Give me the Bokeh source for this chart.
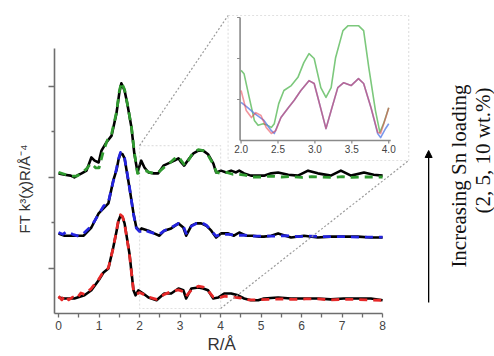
import math

from bokeh.core.properties import value
from bokeh.embed import file_html
from bokeh.models import (Arrow, BoxAnnotation, FixedTicker, Label,
                          NormalHead, Range1d, Title)
from bokeh.plotting import figure
from bokeh.resources import INLINE

# ---------------------------------------------------------------------------
# FT-EXAFS magnitudes (offset for clarity): experiment (black) and fit (dashed)
# ---------------------------------------------------------------------------
# 10 wt.% Sn
r_10 = [0.00, 0.15, 0.30, 0.39, 0.50, 0.57, 0.69, 0.81, 0.89, 0.99,
        1.06, 1.18, 1.31, 1.43, 1.50, 1.55, 1.63, 1.70, 1.80, 1.87,
        1.95, 2.04, 2.12, 2.22, 2.35, 2.46, 2.59, 2.71, 2.86, 2.96,
        3.03, 3.10, 3.23, 3.33, 3.45, 3.57, 3.69, 3.82, 3.89, 4.01,
        4.14, 4.26, 4.38, 4.46, 4.58, 4.75, 4.93, 5.07, 5.25, 5.42,
        5.67, 5.91, 6.16, 6.40, 6.72, 6.97, 7.22, 7.54, 7.78, 8.00]
exp_10 = [3.08, 3.05, 3.03, 2.99, 3.05, 3.08, 3.14, 3.43, 3.36, 3.32,
          3.58, 3.76, 3.91, 4.40, 4.85, 5.06, 4.90, 4.60, 4.09, 3.52,
          3.10, 3.36, 3.21, 3.10, 3.08, 3.08, 3.25, 3.30, 3.36, 3.41,
          3.32, 3.25, 3.41, 3.52, 3.58, 3.58, 3.50, 3.30, 3.10, 3.14,
          3.10, 3.14, 3.10, 3.14, 3.08, 3.03, 3.03, 3.03, 3.08, 3.10,
          3.05, 3.03, 3.14, 3.08, 3.03, 3.14, 3.03, 3.10, 3.05, 3.03]
r_10_fit = [0.00, 0.15, 0.30, 0.45, 0.57, 0.69, 0.80, 0.92, 1.00,
            1.10, 1.20, 1.31, 1.43, 1.50, 1.55, 1.63, 1.70, 1.80, 1.87,
            1.95, 2.05, 2.15, 2.25, 2.35, 2.46, 2.59, 2.71, 2.86, 2.96,
            3.03, 3.12, 3.23, 3.33, 3.45, 3.57, 3.69, 3.82, 3.90, 4.00,
            4.15, 4.30, 4.45, 4.60, 4.80, 5.00, 5.25, 5.50, 5.75, 6.00,
            6.25, 6.50, 6.75, 7.00, 7.25, 7.50, 7.75, 8.00]
fit_10 = [3.10, 3.06, 3.02, 3.02, 3.08, 3.18, 3.30, 3.20, 3.20,
          3.55, 3.80, 3.95, 4.42, 4.88, 5.08, 4.92, 4.60, 4.10, 3.55,
          3.08, 3.12, 3.14, 3.10, 3.08, 3.10, 3.20, 3.28, 3.40, 3.45,
          3.36, 3.25, 3.40, 3.55, 3.60, 3.58, 3.48, 3.28, 3.10, 3.08,
          3.10, 3.06, 3.06, 3.04, 3.00, 3.00, 3.02, 3.00, 3.01, 2.99,
          3.01, 3.00, 2.99, 3.01, 2.99, 3.00, 3.00, 3.00]

# 5 wt.% Sn
r_5 = [0.00, 0.15, 0.40, 0.62, 0.81, 0.99, 1.11, 1.23, 1.35, 1.43,
       1.48, 1.53, 1.58, 1.63, 1.75, 1.85, 1.92, 2.00, 2.05, 2.22,
       2.36, 2.49, 2.61, 2.78, 2.96, 3.08, 3.15, 3.28, 3.40, 3.52,
       3.65, 3.77, 3.89, 4.01, 4.19, 4.33, 4.46, 4.63, 4.80, 4.95,
       5.07, 5.25, 5.42, 5.74, 6.06, 6.40, 6.72, 7.04, 7.39, 7.71,
       8.00]
exp_5 = [1.76, 1.71, 1.71, 1.71, 1.89, 2.20, 2.31, 2.42, 2.92, 3.15,
         3.38, 3.52, 3.50, 3.41, 2.77, 2.20, 1.89, 1.82, 1.87, 1.82,
         1.76, 1.71, 1.82, 1.87, 1.98, 1.89, 1.71, 1.93, 1.98, 1.98,
         1.93, 1.82, 1.67, 1.76, 1.76, 1.71, 1.78, 1.71, 1.71, 1.69,
         1.69, 1.71, 1.76, 1.67, 1.71, 1.67, 1.69, 1.69, 1.69, 1.67,
         1.67]
r_5_fit = [0.00, 0.10, 0.20, 0.35, 0.50, 0.62, 0.81, 0.99, 1.11, 1.23,
           1.35, 1.43, 1.48, 1.53, 1.58, 1.63, 1.75, 1.85, 1.92, 2.00,
           2.10, 2.22, 2.36, 2.49, 2.61, 2.78, 2.96, 3.08, 3.15, 3.28,
           3.40, 3.52, 3.65, 3.77, 3.89, 4.01, 4.20, 4.40, 4.60, 4.80,
           5.00, 5.30, 5.60, 5.90, 6.20, 6.50, 6.80, 7.10, 7.40, 7.70,
           8.00]
fit_5 = [1.78, 1.74, 1.80, 1.74, 1.70, 1.76, 1.92, 2.18, 2.36, 2.45,
         2.90, 3.18, 3.40, 3.54, 3.51, 3.42, 2.78, 2.18, 1.88, 1.80,
         1.84, 1.80, 1.76, 1.74, 1.82, 1.89, 1.98, 1.92, 1.76, 1.92,
         1.98, 2.00, 1.94, 1.82, 1.70, 1.74, 1.74, 1.72, 1.72, 1.70,
         1.70, 1.70, 1.71, 1.69, 1.70, 1.69, 1.69, 1.69, 1.68, 1.68,
         1.68]

# 2 wt.% Sn
r_2 = [0.00, 0.15, 0.39, 0.64, 0.81, 0.99, 1.11, 1.23, 1.35, 1.43,
       1.48, 1.53, 1.58, 1.63, 1.75, 1.85, 1.90, 1.97, 2.09, 2.22,
       2.42, 2.61, 2.78, 2.96, 3.08, 3.15, 3.28, 3.45, 3.57, 3.69,
       3.82, 3.94, 4.09, 4.26, 4.43, 4.58, 4.75, 4.93, 5.07, 5.42,
       5.74, 6.06, 6.40, 6.72, 7.04, 7.39, 7.71, 8.00]
exp_2 = [0.35, 0.33, 0.33, 0.40, 0.51, 0.73, 0.90, 0.99, 1.45, 1.80,
         2.04, 2.15, 2.12, 1.98, 1.32, 0.51, 0.40, 0.51, 0.44, 0.35,
         0.29, 0.44, 0.44, 0.55, 0.51, 0.33, 0.55, 0.57, 0.55, 0.51,
         0.33, 0.35, 0.44, 0.44, 0.40, 0.33, 0.29, 0.29, 0.33, 0.35,
         0.33, 0.33, 0.33, 0.31, 0.33, 0.33, 0.33, 0.29]
r_2_fit = [0.00, 0.08, 0.16, 0.25, 0.35, 0.45, 0.55, 0.64, 0.81, 0.99,
           1.11, 1.23, 1.35, 1.43, 1.48, 1.53, 1.58, 1.63, 1.75, 1.85,
           1.92, 2.00, 2.10, 2.22, 2.42, 2.61, 2.78, 2.96, 3.08, 3.15,
           3.28, 3.45, 3.57, 3.69, 3.82, 3.94, 4.10, 4.30, 4.50, 4.70,
           4.90, 5.20, 5.50, 5.80, 6.10, 6.40, 6.70, 7.00, 7.30, 7.60,
           8.00]
fit_2 = [0.38, 0.30, 0.40, 0.30, 0.36, 0.33, 0.45, 0.42, 0.55, 0.75,
         0.92, 1.00, 1.44, 1.82, 2.06, 2.17, 2.13, 1.97, 1.30, 0.50,
         0.42, 0.46, 0.42, 0.36, 0.31, 0.42, 0.48, 0.52, 0.48, 0.38,
         0.52, 0.60, 0.58, 0.50, 0.36, 0.34, 0.38, 0.36, 0.34, 0.30,
         0.30, 0.31, 0.32, 0.31, 0.32, 0.32, 0.30, 0.31, 0.31, 0.30,
         0.29]

# Close-up of the 2-4 A region
zr_10 = [2.00, 2.04, 2.11, 2.18, 2.23, 2.30, 2.36, 2.41, 2.45, 2.51,
         2.58, 2.68, 2.77, 2.85, 2.92, 2.99, 3.08, 3.15, 3.22, 3.28,
         3.38, 3.45, 3.59, 3.66, 3.73, 3.82, 3.88, 3.93, 4.00]
zy_10 = [1.71, 1.63, 1.05, 0.49, 0.37, 0.41, 0.37, 0.32, 0.41, 0.90,
         1.22, 1.34, 1.54, 1.90, 2.12, 2.00, 1.29, 1.05, 1.29, 2.02,
         2.68, 2.80, 2.80, 2.68, 1.78, 0.73, 0.20, 0.41, 0.80]
zr_5 = [2.00, 2.09, 2.18, 2.31, 2.41, 2.45, 2.54, 2.64, 2.72, 2.81,
        2.92, 2.99, 3.05, 3.15, 3.22, 3.31, 3.39, 3.49, 3.59, 3.66,
        3.76, 3.85, 3.89, 3.96, 4.00]
zy_5 = [0.93, 0.80, 0.66, 0.49, 0.24, 0.17, 0.56, 0.80, 0.98, 1.22,
        1.46, 1.39, 0.98, 0.29, 0.73, 1.29, 1.41, 1.34, 1.51, 1.39,
        0.80, 0.17, 0.07, 0.30, 0.41]
zr_2 = [2.00, 2.07, 2.14, 2.20, 2.27, 2.34, 2.41, 2.47, 2.54, 2.64,
        2.72, 2.81, 2.92, 2.99, 3.05, 3.15, 3.22, 3.31, 3.39, 3.49,
        3.59, 3.66, 3.76, 3.85, 3.89, 3.96, 4.00]
zy_2 = [1.22, 0.73, 0.56, 0.68, 0.61, 0.32, 0.17, 0.24, 0.56, 0.80,
        0.98, 1.22, 1.46, 1.39, 0.98, 0.29, 0.73, 1.29, 1.41, 1.34,
        1.51, 1.39, 0.80, 0.20, 0.17, 0.56, 0.80]

x_ticks = [0, 1, 2, 3, 4, 5, 6, 7, 8]
y_ticks = [1, 3, 5]
y_minor = [2, 4]
zoom_ticks = [2.0, 2.5, 3.0, 3.5, 4.0]
zoom_yticks = [1, 2, 3]

GREEN, BLUE, RED = "#2f9a2f", "#2424e0", "#e62828"
AXIS = "#6e6e6e"
ZAXIS = "#8a8a8a"
SANS = "Liberation Sans"
SERIF = "Liberation Serif"

# ---------------------------------------------------------------------------
# page geometry (pixels)
# ---------------------------------------------------------------------------
W, H = 494, 356
FRAME_L, BORDER_B = 53, 43
FRAME_B = H - BORDER_B          # x axis line
PX_X, PX_Y = 40.6, 45.5         # pixels per unit of R and of intensity
X_LO, Y_TOP = -0.1, 5.82        # visible extent of the main axes
ZPX_X, ZPX_Y = 74.0, 41.0       # pixels per unit in the close-up
Z_ORIGIN = (240, 140)           # pixel of (2.0, 0) in the close-up

x_range = Range1d(X_LO, X_LO + (W - FRAME_L) / PX_X)
y_range = Range1d(0, FRAME_B / PX_Y)

p = figure(width=W, height=H, x_range=x_range, y_range=y_range,
           output_backend="svg", toolbar_location=None,
           min_border_left=FRAME_L, min_border_right=0, min_border_top=0,
           min_border_bottom=BORDER_B)
p.outline_line_color = None
p.grid.visible = False

z_x0 = zoom_ticks[0] - (Z_ORIGIN[0] - FRAME_L) / ZPX_X
z_y0 = -(FRAME_B - Z_ORIGIN[1]) / ZPX_Y
p.extra_x_ranges = {"zx": Range1d(z_x0, z_x0 + (W - FRAME_L) / ZPX_X)}
p.extra_y_ranges = {"zy": Range1d(z_y0, z_y0 + FRAME_B / ZPX_Y)}


def main_xy(px, py):
    """pixel position -> main data coordinates"""
    return X_LO + (px - FRAME_L) / PX_X, (FRAME_B - py) / PX_Y


def zoom_xy(px, py):
    """pixel position -> close-up data coordinates"""
    return (zoom_ticks[0] + (px - Z_ORIGIN[0]) / ZPX_X,
            (Z_ORIGIN[1] - py) / ZPX_Y)


# ---- main axes ------------------------------------------------------------
for ax in (p.xaxis[0], p.yaxis[0]):
    ax.axis_line_color = AXIS
    ax.axis_line_width = 1.6
    ax.major_tick_line_color = AXIS
    ax.minor_tick_line_color = AXIS
    ax.major_tick_line_width = 1.3
    ax.minor_tick_line_width = 1.3
    ax.major_tick_in = 0
    ax.minor_tick_in = 0

p.xaxis.bounds = (X_LO, x_ticks[-1])
p.xaxis.ticker = FixedTicker(ticks=x_ticks, minor_ticks=[t + 0.5 for t in x_ticks[:-1]])
p.xaxis.major_tick_out = 4
p.xaxis.minor_tick_out = 4
p.xaxis.major_label_standoff = 3
p.xaxis.major_label_text_font = SANS
p.xaxis.major_label_text_font_size = "12px"
p.xaxis.major_label_text_color = "#444444"

p.yaxis.bounds = (0, Y_TOP)
p.yaxis.ticker = FixedTicker(ticks=y_ticks, minor_ticks=y_minor)
p.yaxis.major_tick_out = 6
p.yaxis.minor_tick_out = 3
p.yaxis.major_label_text_font_size = "1px"
p.yaxis.major_label_text_color = None
p.yaxis.major_label_standoff = 0

# axis titles, placed along the drawn part of each axis
p.add_layout(Title(text="FT k³(χ)R/Å⁻⁴", align="left", offset=80,
                   vertical_align="middle", standoff=29,
                   text_font=SANS, text_font_size="15px",
                   text_font_style="normal", text_color="#333333"), "left")
p.add_layout(Title(text="R/Å", align="left", offset=153,
                   vertical_align="bottom", standoff=0,
                   text_font=SANS, text_font_size="17px",
                   text_font_style="normal", text_color="#333333"), "below")

# ---- spectra ----------------------------------------------------------------
series = [(r_10, exp_10, r_10_fit, fit_10, GREEN),
          (r_5, exp_5, r_5_fit, fit_5, BLUE),
          (r_2, exp_2, r_2_fit, fit_2, RED)]
for r_exp, y_exp, r_fit, y_fit, color in series:
    p.line(r_exp, y_exp, line_color="black", line_width=2.6, line_join="round")
    p.line(r_fit, y_fit, line_color=color, line_width=2.8, line_dash="8 6",
           line_join="round")

# ---- region enlarged in the close-up ----------------------------------------
ZX0, ZX1 = zoom_ticks[0], zoom_ticks[-1]
ZY0, ZY1 = 0.11, 3.69
GREY_DOT = dict(line_color="#9a9a9a", line_width=1.2, line_dash="2 2")
p.add_layout(BoxAnnotation(left=ZX0, right=ZX1, bottom=ZY0, top=ZY1,
                           fill_alpha=0, **GREY_DOT))

# close-up frame box and the two guide lines to it
BOX_PX = (227, 15, 408, 160)       # left, top, right, bottom
zl, zt = zoom_xy(BOX_PX[0], BOX_PX[1])
zr, zb = zoom_xy(BOX_PX[2], BOX_PX[3])
p.add_layout(BoxAnnotation(left=zl, right=zr, bottom=zb, top=zt,
                           x_range_name="zx", y_range_name="zy",
                           fill_alpha=0, **GREY_DOT))
ml, mt = main_xy(BOX_PX[0], BOX_PX[1])
mr, mb = main_xy(BOX_PX[2], BOX_PX[3])
for (xa, ya), (xb, yb) in [((ZX0, ZY1), (ml, mt)), ((ZX1, ZY0), (mr, mb))]:
    p.add_layout(Arrow(x_start=xa, y_start=ya, x_end=xb, y_end=yb, end=None,
                       **GREY_DOT))

# ---- close-up axes ----------------------------------------------------------
zx_lo, _ = zoom_xy(Z_ORIGIN[0] - 1, 0)
zx_hi, _ = zoom_xy(390, 0)
ZTOP = zoom_yticks[-1]
p.segment(x0=[zx_lo, zx_lo], y0=[0, 0], x1=[zx_lo, zx_hi], y1=[ZTOP, 0],
          x_range_name="zx", y_range_name="zy", line_color=ZAXIS, line_width=1.6)
tick_dy = 3 / ZPX_Y
tick_dx = 3 / ZPX_X
p.segment(x0=zoom_ticks, y0=[0] * len(zoom_ticks), x1=zoom_ticks,
          y1=[-tick_dy] * len(zoom_ticks), x_range_name="zx", y_range_name="zy",
          line_color=ZAXIS, line_width=1.2)
p.segment(x0=[zx_lo] * len(zoom_yticks), y0=zoom_yticks,
          x1=[zx_lo - tick_dx] * len(zoom_yticks), y1=zoom_yticks,
          x_range_name="zx", y_range_name="zy", line_color=ZAXIS, line_width=1.2)
p.text(x=zoom_ticks, y=[-1.6 * tick_dy] * len(zoom_ticks),
       text=[f"{t:.1f}" for t in zoom_ticks], x_range_name="zx", y_range_name="zy",
       text_font=value(SANS), text_font_size="10px", text_color="#444444",
       text_align="center", text_baseline="top")

# ---- close-up curves --------------------------------------------------------
p.line(zr_10, zy_10, x_range_name="zx", y_range_name="zy", line_color="#7cc87c",
       line_width=1.6, line_join="round")
p.line(zr_5, zy_5, x_range_name="zx", y_range_name="zy", line_color="#5a7ee6",
       line_width=1.6, line_alpha=0.8, line_join="round")
p.line(zr_2, zy_2, x_range_name="zx", y_range_name="zy", line_color="#e8404e",
       line_width=1.6, line_alpha=0.55, line_join="round")

# ---- loading arrow and caption on the right --------------------------------
ax_x, ay0 = main_xy(428, 302)
_, ay1 = main_xy(428, 150)
p.add_layout(Arrow(x_start=ax_x, y_start=ay0, x_end=ax_x, y_end=ay1,
                   line_color="black", line_width=1.3,
                   end=NormalHead(size=7, fill_color="black", line_color="black")))
for (px, py), txt in [((458, 84), "Increasing Sn loading"),
                      ((482, 87), "(2, 5, 10 wt.%)")]:
    tx, ty = main_xy(px, py)
    p.add_layout(Label(x=tx, y=ty, text=txt, angle=math.pi / 2,
                       text_align="right", text_baseline="middle",
                       text_font=SERIF, text_font_size="21px",
                       text_color="#111111"))

open("out.html", "w").write(file_html(p, INLINE))
